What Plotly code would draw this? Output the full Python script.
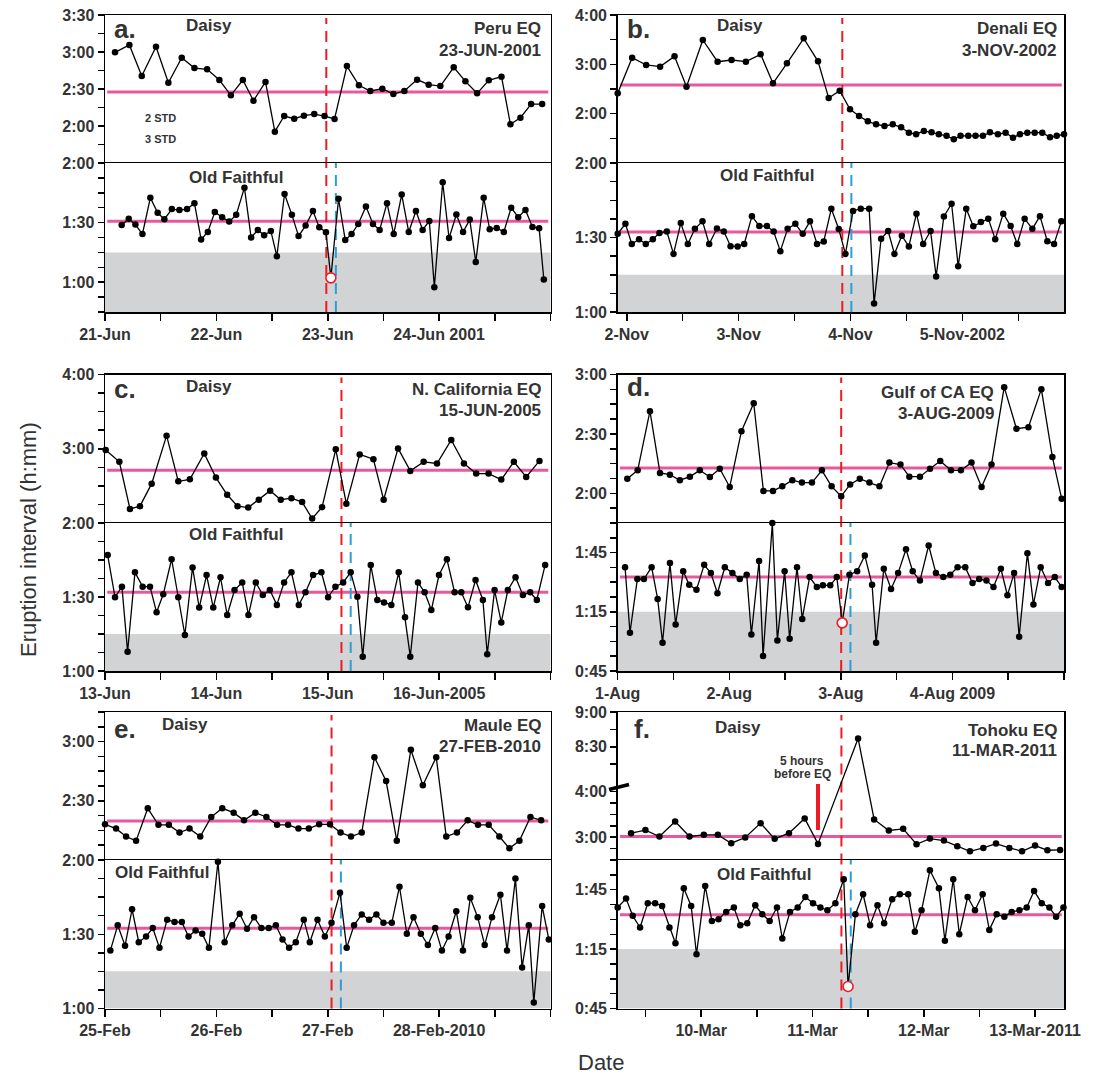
import plotly.graph_objects as go

# ---------------- DATA (x = days since first labelled date, y = minutes) ----------------
# Panel a: Peru EQ 23-JUN-2001 (x: days since 21-Jun-2001)
a_daisy_x = [0.090,0.219,0.330,0.458,0.569,0.689,0.803,0.917,1.027,1.130,1.238,1.333,1.441,1.525,1.609,1.699,1.786,1.879,1.971,2.061,2.172,2.280,2.382,2.490,2.589,2.688,2.802,2.906,3.011,3.131,3.236,3.341,3.446,3.560,3.640,3.730,3.826,3.925]
a_daisy_y = [179.7,185.7,160.5,184.3,155.1,175.4,167.0,166.0,157.3,144.9,157.3,140.5,155.7,115.4,128.1,125.9,128.4,129.7,128.1,125.7,168.6,153.0,148.4,150.2,145.9,148.4,157.6,153.5,152.4,167.6,156.2,146.5,157.0,160.0,121.4,126.7,137.8,137.8]
a_of_x = [0.150,0.213,0.273,0.336,0.407,0.473,0.533,0.600,0.668,0.737,0.803,0.863,0.923,0.986,1.052,1.115,1.178,1.252,1.312,1.372,1.429,1.489,1.543,1.612,1.678,1.738,1.801,1.867,1.924,1.984,2.028,2.097,2.157,2.214,2.274,2.343,2.406,2.466,2.532,2.592,2.664,2.727,2.792,2.852,2.912,2.957,3.032,3.089,3.155,3.215,3.275,3.329,3.400,3.454,3.517,3.581,3.647,3.710,3.775,3.838,3.898,3.940]
a_of_y = [88.8,91.9,89.0,84.2,102.5,94.9,91.7,96.8,96.3,96.8,99.8,81.5,85.3,95.3,92.7,90.5,93.9,107.6,82.5,86.3,83.6,85.8,73.1,104.4,93.9,83.2,88.5,95.8,87.6,85.1,62.2,102.0,81.2,84.2,89.3,98.1,89.3,86.3,99.8,84.2,104.1,85.3,95.8,86.3,90.8,57.5,110.3,82.2,94.1,85.3,91.5,70.2,102.5,86.6,87.3,85.3,97.5,92.7,96.4,87.8,87.1,61.4]
a_of_anomaly = 30
a_daisy_mean, a_of_mean = 147.6, 90.7
a_eq_x, a_of_eq_x = 1.987, 2.073
a_xlabels = ["21-Jun", "22-Jun", "23-Jun", "24-Jun 2001"]

# Panel b: Denali EQ 3-NOV-2002 (x: days since 2-Nov-2002)
b_daisy_x = [-0.081,0.048,0.173,0.298,0.427,0.534,0.680,0.812,0.937,1.065,1.197,1.307,1.432,1.582,1.710,1.805,1.904,1.996,2.077,2.155,2.229,2.304,2.378,2.453,2.522,2.587,2.656,2.725,2.790,2.859,2.924,2.984,3.053,3.118,3.184,3.247,3.318,3.387,3.453,3.515,3.581,3.647,3.715,3.784,3.844,3.909]
b_daisy_y = [144.7,188.1,179.2,177.2,189.7,152.8,209.6,183.2,185.3,183.2,192.2,156.9,181.2,211.6,183.7,139.0,148.0,125.3,117.2,110.7,107.0,105.0,107.0,103.4,96.9,95.0,99.0,97.3,95.0,93.0,88.8,93.0,93.0,93.0,93.0,97.3,95.0,96.9,90.8,95.0,96.9,96.9,96.9,91.2,93.2,95.0]
b_of_x = [-0.081,-0.012,0.045,0.110,0.170,0.233,0.292,0.358,0.418,0.483,0.546,0.609,0.677,0.737,0.806,0.868,0.928,0.991,1.050,1.119,1.185,1.253,1.313,1.373,1.438,1.507,1.573,1.638,1.701,1.761,1.829,1.895,1.955,2.023,2.092,2.167,2.211,2.274,2.337,2.393,2.459,2.522,2.590,2.650,2.716,2.766,2.835,2.904,2.963,3.035,3.098,3.166,3.232,3.294,3.366,3.432,3.491,3.557,3.626,3.694,3.760,3.820,3.885]
b_of_y = [91.5,95.5,87.4,89.3,87.4,89.3,91.8,92.4,83.4,95.8,87.4,93.5,96.5,87.4,93.6,92.4,86.5,86.4,87.4,98.6,94.6,94.6,92.4,84.5,93.5,95.5,91.5,96.5,87.4,88.4,101.6,93.4,83.4,100.7,101.6,101.6,63.4,89.5,92.6,83.4,90.7,86.4,99.6,87.4,92.6,74.3,98.5,103.6,78.4,101.6,94.5,96.2,97.6,89.3,99.6,94.6,87.4,97.6,93.5,98.6,88.5,87.4,96.5]
b_of_anomaly = None
b_daisy_mean, b_of_mean = 154.9, 92.2
b_eq_x, b_of_eq_x = 1.927, 2.008
b_xlabels = ["2-Nov", "3-Nov", "4-Nov", "5-Nov-2002"]

# Panel c: N. California EQ 15-JUN-2005 (x: days since 13-Jun-2005)
c_daisy_x = [0.006,0.129,0.224,0.314,0.419,0.553,0.658,0.762,0.891,0.996,1.097,1.190,1.286,1.381,1.483,1.578,1.674,1.770,1.860,1.949,2.072,2.167,2.287,2.410,2.502,2.631,2.741,2.861,2.981,3.109,3.223,3.333,3.444,3.558,3.671,3.782,3.901]
c_daisy_y = [178.9,169.4,131.4,133.6,151.8,190.6,153.7,155.3,176.2,156.7,142.8,133.6,132.5,138.8,146.1,138.8,140.1,136.9,123.6,132.8,179.5,135.5,175.4,171.6,138.8,180.3,162.1,169.4,168.1,187.1,168.1,159.9,159.9,155.1,169.4,157.2,170.2]
c_of_x = [0.024,0.090,0.152,0.203,0.269,0.338,0.404,0.463,0.523,0.598,0.658,0.717,0.786,0.846,0.912,0.972,1.037,1.097,1.163,1.232,1.288,1.354,1.417,1.480,1.543,1.608,1.674,1.740,1.800,1.868,1.943,2.003,2.069,2.138,2.206,2.266,2.314,2.386,2.445,2.505,2.571,2.637,2.694,2.741,2.810,2.870,2.930,2.999,3.070,3.139,3.199,3.259,3.327,3.393,3.432,3.498,3.558,3.617,3.686,3.752,3.818,3.877,3.952]
c_of_y = [107.0,89.9,94.2,67.8,100.0,94.2,94.2,83.8,91.1,105.3,89.9,74.6,102.0,85.7,98.9,85.7,98.0,82.7,92.8,95.9,82.7,95.9,90.8,92.8,86.8,95.9,100.0,86.8,91.9,98.9,100.0,89.9,94.2,95.9,100.0,90.1,65.8,103.0,88.8,87.8,86.8,100.0,81.8,65.8,95.9,91.9,84.7,98.9,105.3,91.9,91.9,85.8,96.9,88.8,66.8,92.8,79.7,92.8,98.0,90.8,91.9,88.8,103.0]
c_of_anomaly = None
c_daisy_mean, c_of_mean = 162.7, 91.9
c_eq_x, c_of_eq_x = 2.123, 2.206
c_xlabels = ["13-Jun", "14-Jun", "15-Jun", "16-Jun-2005"]

# Panel d: Gulf of CA EQ 3-AUG-2009 (x: days since 1-Aug-2009)
d_daisy_x = [0.086,0.179,0.289,0.379,0.468,0.557,0.647,0.736,0.826,0.915,1.004,1.109,1.219,1.306,1.392,1.475,1.565,1.651,1.741,1.830,1.917,2.003,2.083,2.170,2.256,2.346,2.435,2.534,2.614,2.709,2.799,2.891,2.987,3.076,3.171,3.261,3.350,3.464,3.574,3.681,3.797,3.896,3.979]
d_daisy_y = [127.4,131.6,161.5,130.3,129.4,126.6,128.4,131.6,128.2,132.4,123.2,151.4,165.5,121.2,121.2,123.5,126.6,125.4,125.4,131.6,123.5,118.5,124.5,127.4,125.4,123.5,135.5,134.5,128.4,128.4,132.4,136.3,131.6,131.6,135.5,123.2,134.5,173.6,152.6,153.4,172.6,138.3,117.3]
d_of_x = [0.066,0.110,0.176,0.235,0.304,0.358,0.402,0.468,0.519,0.587,0.641,0.706,0.775,0.835,0.894,0.960,1.028,1.094,1.156,1.198,1.267,1.303,1.386,1.431,1.496,1.541,1.607,1.654,1.720,1.785,1.839,1.905,1.964,2.012,2.077,2.146,2.215,2.280,2.316,2.385,2.450,2.513,2.584,2.644,2.709,2.787,2.852,2.918,2.981,3.046,3.115,3.180,3.240,3.305,3.368,3.434,3.493,3.553,3.598,3.672,3.726,3.791,3.857,3.917,3.979]
d_of_y = [97.6,64.4,91.6,91.6,97.6,81.5,59.3,99.7,68.6,95.5,88.7,86.2,98.8,94.6,84.4,97.6,94.6,91.6,93.8,63.5,100.8,52.6,120.0,60.5,95.5,61.3,97.6,71.4,92.6,87.6,88.4,88.4,92.6,69.4,93.8,95.5,103.5,88.7,59.3,96.8,86.6,94.6,106.7,95.5,90.8,108.6,94.6,92.6,93.8,97.6,97.6,89.6,91.6,90.8,87.6,96.8,83.4,94.6,62.4,104.7,78.7,97.6,89.6,92.6,87.6]
d_of_anomaly = 33
d_daisy_mean, d_of_mean = 132.8, 92.6
d_eq_x, d_of_eq_x = 2.003, 2.086
d_xlabels = ["1-Aug", "2-Aug", "3-Aug", "4-Aug 2009"]

# Panel e: Maule EQ 27-FEB-2010 (x: days since 25-Feb-2010)
e_daisy_x = [0.000,0.099,0.189,0.279,0.384,0.480,0.573,0.669,0.759,0.855,0.954,1.053,1.155,1.248,1.350,1.449,1.545,1.644,1.737,1.830,1.923,2.020,2.115,2.209,2.305,2.419,2.524,2.620,2.746,2.854,2.974,3.064,3.160,3.256,3.349,3.445,3.541,3.631,3.721,3.820,3.916]
e_daisy_y = [138.1,135.9,131.9,129.7,146.2,137.8,137.8,133.9,135.9,131.9,141.8,146.2,144.0,140.1,144.0,141.8,137.8,137.8,135.9,135.9,138.1,138.1,133.9,131.9,133.9,172.1,160.0,129.7,175.9,157.9,172.1,131.9,133.9,140.1,137.8,137.8,131.9,125.9,129.7,141.8,140.1]
e_of_x = [0.048,0.114,0.180,0.243,0.303,0.369,0.429,0.489,0.558,0.624,0.690,0.750,0.813,0.873,0.933,1.014,1.074,1.143,1.209,1.275,1.338,1.404,1.470,1.534,1.594,1.653,1.713,1.785,1.839,1.908,1.974,2.034,2.110,2.170,2.236,2.305,2.371,2.437,2.500,2.575,2.644,2.710,2.770,2.836,2.899,2.965,3.025,3.085,3.154,3.214,3.280,3.346,3.409,3.475,3.550,3.610,3.685,3.745,3.805,3.850,3.925,3.985]
e_of_y = [83.4,93.6,85.4,100.1,86.8,89.1,92.5,84.5,95.9,94.9,94.9,89.1,91.5,90.2,84.5,119.3,86.8,93.6,98.3,92.2,96.9,92.5,92.5,93.6,87.9,84.5,86.8,95.9,86.8,95.9,89.1,94.6,106.8,84.5,93.6,98.0,95.9,98.0,94.6,94.6,109.2,90.2,96.9,90.2,85.7,92.5,83.4,89.1,99.3,83.4,104.7,96.9,85.7,96.9,106.0,83.4,112.5,76.6,93.6,62.4,101.4,87.9]
e_of_anomaly = None
e_daisy_mean, e_of_mean = 139.8, 92.4
e_eq_x, e_of_eq_x = 2.034, 2.118
e_xlabels = ["25-Feb", "26-Feb", "27-Feb", "28-Feb-2010"]

# Panel f: Tohoku EQ 11-MAR-2011 (x: days since 9-Mar-2011)
f_daisy_x = [0.370,0.499,0.625,0.766,0.895,1.024,1.150,1.270,1.396,1.534,1.660,1.789,1.930,2.050,2.410,2.554,2.686,2.815,2.935,3.055,3.181,3.301,3.415,3.535,3.649,3.769,3.883,4.000,4.111,4.225]
f_daisy_y = [185.3,189.3,180.9,200.7,180.9,183.1,183.1,172.1,179.6,198.5,177.8,185.3,204.7,171.2,517.2,203.3,188.8,191.0,170.7,178.2,175.6,168.1,161.5,165.9,171.6,165.9,161.5,169.0,162.8,163.3]
f_of_x = [0.250,0.325,0.385,0.451,0.520,0.586,0.649,0.715,0.769,0.844,0.910,0.958,1.036,1.096,1.156,1.225,1.294,1.351,1.414,1.486,1.549,1.615,1.681,1.729,1.798,1.867,1.936,2.005,2.071,2.134,2.206,2.281,2.320,2.386,2.455,2.518,2.584,2.644,2.716,2.785,2.860,2.920,2.980,3.055,3.136,3.190,3.265,3.319,3.394,3.460,3.529,3.589,3.655,3.724,3.790,3.859,3.925,3.991,4.060,4.129,4.189,4.255]
f_of_y = [96.0,100.5,91.8,85.9,98.2,98.2,96.8,85.9,78.0,105.7,96.8,72.4,106.9,89.2,90.1,93.8,96.0,87.1,88.1,97.1,92.6,89.2,96.0,80.3,93.8,96.0,101.3,98.2,96.0,94.6,98.2,110.3,56.1,92.6,102.7,87.1,97.1,88.1,100.2,102.7,102.7,83.7,94.6,114.8,105.7,79.2,110.3,82.5,101.3,94.6,102.7,84.7,92.6,91.3,93.8,94.6,96.0,104.4,98.2,96.0,91.4,96.0]
f_of_anomaly = 32
f_daisy_mean, f_of_mean = 181.0, 92.4
f_eq_x, f_of_eq_x = 2.26, 2.344
f_xlabels = ["10-Mar", "11-Mar", "12-Mar", "13-Mar-2011"]

of_lower_limit = 75.0   # shaded band upper edge (minutes)

# ---------------- STYLE ----------------
W, H = 1101, 1078
TEXT = "#333333"
PINK = "#e8589e"
GRAY = "#d1d3d4"
RED = "#ec1c24"
BLUE = "#2b9fd8"
FONT = "Liberation Sans, Arial, sans-serif"

def PX(p): return p / W
def PY(p): return 1 - p / H

def hm(m):
    h = int(m // 60); mm = int(round(m - 60 * h))
    if mm == 60:
        h += 1; mm = 0
    return f"{h}:{mm:02d}"

def yticks(lo, hi, step, labeled, tf=lambda v: v):
    vals, txt = [], []
    v = lo
    while v <= hi + 1e-6:
        vals.append(tf(v))
        txt.append(f"<b>{hm(v)}</b>" if any(abs(v - l) < 1e-6 for l in labeled) else "")
        v += step
    return vals, txt

# broken axis for Tohoku Daisy
BRK_LO, BRK_HI, BRK_SCALE = 247.0, 476.0, 1.526
def f_tf(v):
    return v if v <= BRK_LO else BRK_LO + (v - BRK_HI) * BRK_SCALE

LEFT = (105, 550.5)
RIGHT = (617.7, 1064)
ROW1 = (15, 163, 312)
ROW2 = (374.5, 523, 671)
ROW3 = (712, 860, 1008.5)

panels = [
    dict(col=LEFT, row=ROW1, dx=a_daisy_x, dy=a_daisy_y, ox=a_of_x, oy=a_of_y, anom=a_of_anomaly,
         dmean=a_daisy_mean, omean=a_of_mean, eq=a_eq_x, eq2=a_of_eq_x,
         drange=(90, 210), dticks=yticks(90, 210, 15, [120, 150, 180, 210]),
         orange=(45, 120), oticks=yticks(45, 120, 7.5, [60, 90, 120]),
         xrange=(0, 4), xt0=0.0, xlabels=a_xlabels, lab0=0),
    dict(col=RIGHT, row=ROW1, dx=b_daisy_x, dy=b_daisy_y, ox=b_of_x, oy=b_of_y, anom=b_of_anomaly,
         dmean=b_daisy_mean, omean=b_of_mean, eq=b_eq_x, eq2=b_of_eq_x,
         drange=(60, 240), dticks=yticks(60, 240, 30, [120, 180, 240]),
         orange=(60, 120), oticks=yticks(60, 120, 7.5, [60, 90, 120]),
         xrange=(-0.081, 3.909), xt0=0.0, xlabels=b_xlabels, lab0=0),
    dict(col=LEFT, row=ROW2, dx=c_daisy_x, dy=c_daisy_y, ox=c_of_x, oy=c_of_y, anom=c_of_anomaly,
         dmean=c_daisy_mean, omean=c_of_mean, eq=c_eq_x, eq2=c_of_eq_x,
         drange=(120, 240), dticks=yticks(120, 240, 15, [180, 240]),
         orange=(60, 120), oticks=yticks(60, 120, 7.5, [60, 90, 120]),
         xrange=(0, 4), xt0=0.0, xlabels=c_xlabels, lab0=0),
    dict(col=RIGHT, row=ROW2, dx=d_daisy_x, dy=d_daisy_y, ox=d_of_x, oy=d_of_y, anom=d_of_anomaly,
         dmean=d_daisy_mean, omean=d_of_mean, eq=d_eq_x, eq2=d_of_eq_x,
         drange=(105, 180), dticks=yticks(105, 180, 7.5, [120, 150, 180]),
         orange=(45, 120), oticks=yticks(45, 120, 7.5, [45, 75, 105]),
         xrange=(0, 4), xt0=0.0, xlabels=d_xlabels, lab0=0),
    dict(col=LEFT, row=ROW3, dx=e_daisy_x, dy=e_daisy_y, ox=e_of_x, oy=e_of_y, anom=e_of_anomaly,
         dmean=e_daisy_mean, omean=e_of_mean, eq=e_eq_x, eq2=e_of_eq_x,
         drange=(120, 195), dticks=yticks(120, 195, 7.5, [150, 180]),
         orange=(60, 120), oticks=yticks(60, 120, 7.5, [60, 90, 120]),
         xrange=(0, 4), xt0=0.0, xlabels=e_xlabels, lab0=0),
    dict(col=RIGHT, row=ROW3, dx=f_daisy_x, dy=f_daisy_y, ox=f_of_x, oy=f_of_y, anom=f_of_anomaly,
         dmean=f_daisy_mean, omean=f_of_mean, eq=f_eq_x, eq2=f_of_eq_x,
         drange=(150, f_tf(540)), broken=True,
         orange=(45, 120), oticks=yticks(45, 120, 7.5, [45, 75, 105]),
         xrange=(0.25, 4.26), xt0=0.5, xlabels=f_xlabels, lab0=1),
]

# broken-axis ticks for f
lo_v, lo_t = yticks(150, 240, 15, [180, 240], f_tf)
hi_v, hi_t = yticks(495, 540, 15, [510, 540], f_tf)
panels[5]["dticks"] = (lo_v + hi_v, lo_t + hi_t)

fig = go.Figure()
layout = dict(width=W, height=H, margin=dict(l=0, r=0, t=0, b=0, autoexpand=False),
              paper_bgcolor="white", plot_bgcolor="white", showlegend=False,
              hovermode=False, dragmode=False,
              font=dict(family=FONT, color=TEXT))
shapes, annotations = [], []

axis_common = dict(showline=True, linecolor="black", linewidth=1.5,
                   showgrid=False, zeroline=False, automargin=False, fixedrange=True)
tickfont = dict(family=FONT, size=16, color=TEXT)

for i, p in enumerate(panels):
    kd, ko = 2 * i + 1, 2 * i + 2
    xd = (PX(p["col"][0]), PX(p["col"][1]))
    top, mid, bot = p["row"]
    tf = f_tf if p.get("broken") else (lambda v: v)
    # x tick values every 12 h, labels on whole days
    xt, xtxt = [], []
    v = p["xt0"]
    while v <= p["xrange"][1] + 1e-6:
        xt.append(v)
        n = int(round(v)) - p["lab0"]
        if abs(v - round(v)) < 1e-6 and 0 <= n < len(p["xlabels"]):
            xtxt.append(f"<b>{p['xlabels'][n]}</b>")
        else:
            xtxt.append("")
        v += 0.5
    for k, ydom in ((kd, (PY(mid), PY(top))), (ko, (PY(bot), PY(mid)))):
        sx = "" if k == 1 else str(k)
        is_of = (k == ko)
        if is_of:
            layout["xaxis" + sx] = dict(axis_common, domain=list(xd), range=list(p["xrange"]),
                                        anchor="y" + sx, mirror=True,
                                        ticks="outside", ticklen=7, tickwidth=1.5, tickcolor="black",
                                        tickvals=xt, ticktext=xtxt, tickfont=tickfont)
        else:
            layout["xaxis" + sx] = dict(axis_common, domain=list(xd), range=list(p["xrange"]),
                                        anchor="y" + sx, side="top", mirror=False,
                                        ticks="", showticklabels=False)
        yr = p["orange"] if is_of else p["drange"]
        yv, yt = p["oticks"] if is_of else p["dticks"]
        layout["yaxis" + sx] = dict(axis_common, domain=list(ydom), range=list(yr), anchor="x" + sx,
                                    mirror=True,
                                    ticks="outside", ticklen=6, tickwidth=1.5, tickcolor="black",
                                    tickvals=yv, ticktext=yt, tickfont=tickfont)
    sd = "" if kd == 1 else str(kd)
    so = str(ko)
    # shaded band & mean lines (below traces)
    shapes.append(dict(type="rect", xref=f"x{so} domain", yref=f"y{so}", x0=0, x1=1,
                       y0=p["orange"][0], y1=of_lower_limit, fillcolor=GRAY, line=dict(width=0),
                       layer="below"))
    shapes.append(dict(type="line", xref=f"x{so} domain", yref=f"y{so}", x0=0.005, x1=0.995,
                       y0=p["omean"], y1=p["omean"], line=dict(color=PINK, width=3), layer="below"))
    shapes.append(dict(type="line", xref=f"x{sd} domain", yref=f"y{sd}", x0=0.005, x1=0.995,
                       y0=tf(p["dmean"]), y1=tf(p["dmean"]), line=dict(color=PINK, width=3),
                       layer="below"))
    # earthquake lines
    shapes.append(dict(type="line", xref=f"x{so}", yref="paper", x0=p["eq"], x1=p["eq"],
                       y0=PY(bot), y1=PY(top + 3), line=dict(color=RED, width=2, dash="11px,7px"),
                       layer="below"))
    shapes.append(dict(type="line", xref=f"x{so}", yref="paper", x0=p["eq2"], x1=p["eq2"],
                       y0=PY(bot), y1=PY(mid), line=dict(color=BLUE, width=2, dash="11px,7px"),
                       layer="below"))
    # data
    fig.add_trace(go.Scatter(x=p["dx"], y=[tf(v) for v in p["dy"]], mode="lines+markers",
                             xaxis="x" + sd, yaxis="y" + sd, cliponaxis=False, hoverinfo="skip",
                             line=dict(color="black", width=1.3),
                             marker=dict(color="black", size=6.5)))
    fig.add_trace(go.Scatter(x=p["ox"], y=p["oy"], mode="lines+markers",
                             xaxis="x" + so, yaxis="y" + so, cliponaxis=False, hoverinfo="skip",
                             line=dict(color="black", width=1.3),
                             marker=dict(color="black", size=6.5)))
    if p["anom"] is not None:
        j = p["anom"]
        fig.add_trace(go.Scatter(x=[p["ox"][j]], y=[p["oy"][j]], mode="markers",
                                 xaxis="x" + so, yaxis="y" + so, cliponaxis=False, hoverinfo="skip",
                                 marker=dict(color="white", size=10, line=dict(color=RED, width=1.6))))

def text(x, y, s, size=17, xanchor="center", bold=True):
    annotations.append(dict(xref="paper", yref="paper", x=PX(x), y=PY(y),
                            text=f"<b>{s}</b>" if bold else s, showarrow=False,
                            xanchor=xanchor, yanchor="middle",
                            font=dict(family=FONT, size=size, color=TEXT)))

# panel a
text(112, 29, "a.", 26, "left"); text(209, 26, "Daisy"); text(236, 177, "Old Faithful")
text(543, 29, "Peru EQ", 17, "right"); text(543, 50, "23-JUN-2001", 17, "right")
text(143, 118, "2 STD", 11, "left"); text(143, 139, "3 STD", 11, "left")
# panel b
text(625, 29, "b.", 26, "left"); text(740, 26, "Daisy"); text(767, 176, "Old Faithful")
text(1059, 29, "Denali EQ", 17, "right"); text(1059, 50, "3-NOV-2002", 17, "right")
# panel c
text(112, 389, "c.", 26, "left"); text(209, 386, "Daisy"); text(236, 535, "Old Faithful")
text(543, 389, "N. California EQ", 17, "right"); text(543, 410, "15-JUN-2005", 17, "right")
# panel d
text(625, 387, "d.", 26, "left")
text(996, 392, "Gulf of CA EQ", 17, "right"); text(996, 413, "3-AUG-2009", 17, "right")
# panel e
text(112, 729, "e.", 26, "left"); text(185, 724, "Daisy"); text(162, 872, "Old Faithful")
text(543, 725, "Maule EQ", 17, "right"); text(543, 746, "27-FEB-2010", 17, "right")
# panel f
text(632, 729, "f.", 26, "left"); text(738, 727, "Daisy"); text(764, 874, "Old Faithful")
text(1059, 730, "Tohoku EQ", 17, "right"); text(1059, 750, "11-MAR-2011", 17, "right")
text(802, 761, "5 hours", 12); text(802, 774, "before EQ", 12)
shapes.append(dict(type="line", xref="paper", yref="paper", x0=PX(818), x1=PX(818),
                   y0=PY(784), y1=PY(830), line=dict(color=RED, width=4)))
# axis-break mark
shapes.append(dict(type="line", xref="paper", yref="paper", x0=PX(609), x1=PX(629),
                   y0=PY(789.5), y1=PY(784.5), line=dict(color="black", width=3.5)))

# axis titles
annotations.append(dict(xref="paper", yref="paper", x=PX(28), y=PY(540), text="Eruption interval (h:mm)",
                        showarrow=False, textangle=-90, xanchor="center", yanchor="middle",
                        font=dict(family=FONT, size=22, color=TEXT)))
annotations.append(dict(xref="paper", yref="paper", x=PX(601), y=PY(1062), text="Date",
                        showarrow=False, xanchor="center", yanchor="middle",
                        font=dict(family=FONT, size=22, color=TEXT)))

layout["shapes"] = shapes
layout["annotations"] = annotations
fig.update_layout(**layout)
fig.write_html("out.html", config={"displayModeBar": False, "staticPlot": True},
               post_script="document.body.style.margin='0px';document.body.style.overflow='hidden';")
